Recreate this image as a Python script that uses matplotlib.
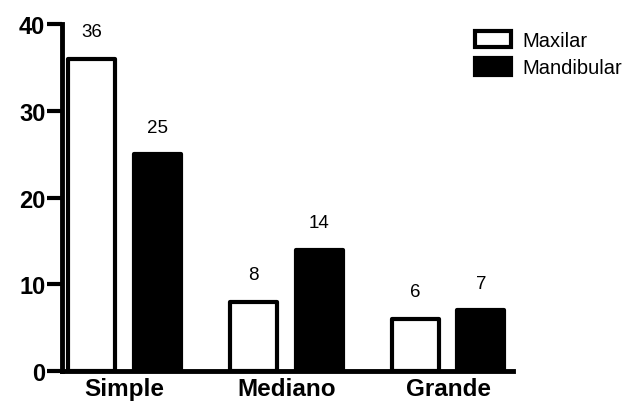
import matplotlib
matplotlib.use("Agg")
import matplotlib.pyplot as plt
import numpy as np

plt.rcParams['font.family'] = ['Liberation Sans', 'DejaVu Sans']

categories = ["Simple", "Mediano", "Grande"]
maxilar = [36, 8, 6]
mandibular = [25, 14, 7]

fig = plt.figure(figsize=(6.33, 4.06), dpi=100)
ax = fig.add_axes([0.098, 0.0837, 0.712, 0.854])

x = np.arange(len(categories))
w = 0.29
off = 0.203
b1 = ax.bar(x - off, maxilar, w, facecolor="white", edgecolor="black",
            linewidth=3, label="Maxilar", joinstyle="round")
b2 = ax.bar(x + off, mandibular, w, facecolor="black", edgecolor="black",
            linewidth=3, label="Mandibular", joinstyle="round")

for bars, vals in ((b1, maxilar), (b2, mandibular)):
    for r, v in zip(bars, vals):
        ax.annotate(str(v), (r.get_x() + r.get_width() / 2, r.get_height()),
                    xytext=(0, 13.5), textcoords="offset points",
                    ha="center", va="bottom", fontsize=13.5)

ax.set_xlim(-0.386, 2.40)
ax.set_ylim(0, 40)
ax.set_yticks([0, 10, 20, 30, 40])
ax.set_xticks(x)
ax.set_xticklabels(categories, fontsize=17.5, fontweight="bold")
ax.tick_params(axis="y", length=11, width=3, labelsize=17, pad=1)
ax.tick_params(axis="x", length=0, pad=4)
for lab in ax.get_yticklabels():
    lab.set_fontweight("bold")
for s in ("top", "right"):
    ax.spines[s].set_visible(False)
for s in ("left", "bottom"):
    ax.spines[s].set_linewidth(3.5)

ax.legend(loc="upper left", bbox_to_anchor=(0.735, 0.945),
          bbox_transform=fig.transFigure, frameon=False, fontsize=14.5,
          handlelength=1.75, handleheight=0.85, borderpad=0,
          labelspacing=0.4, handletextpad=0.6)

fig.savefig("out.png", dpi=100, facecolor="white")
